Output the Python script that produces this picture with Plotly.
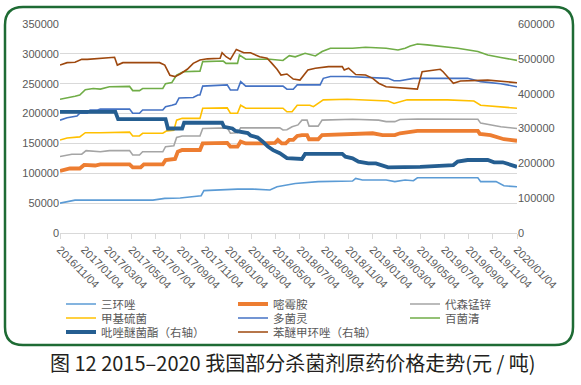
import plotly.graph_objects as go

# ---------------- data ----------------
tick_dates = ["2016-11-04", "2017-01-04", "2017-03-04", "2017-05-04", "2017-07-04",
              "2017-09-04", "2017-11-04", "2018-01-04", "2018-03-04", "2018-05-04",
              "2018-07-04", "2018-09-04", "2018-11-04", "2019-01-04", "2019-03-04",
              "2019-05-04", "2019-07-04", "2019-09-04", "2019-11-04", "2020-01-04"]

sanhuanzuo_dates = ["2016-11-04", "2016-12-12", "2017-06-27", "2017-07-27", "2017-09-04", "2017-10-17",
                    "2017-10-27", "2017-11-03", "2017-12-02", "2018-01-27", "2018-03-07", "2018-04-12",
                    "2018-04-19", "2018-05-07", "2018-06-04", "2018-06-22", "2018-08-19", "2018-11-14",
                    "2018-11-22", "2018-12-09", "2019-02-07", "2019-03-01", "2019-03-27", "2019-04-17",
                    "2019-04-27", "2019-09-27", "2019-10-04", "2019-11-12", "2019-12-02", "2020-01-04"]
sanhuanzuo_vals = [50000, 55000, 55000, 58000, 58500, 62000, 62500, 71000, 72000, 73500, 73500, 72000,
                   72000, 77500, 81500, 83000, 86000, 87000, 91500, 88700, 88700, 86000, 88700, 87500,
                   92500, 92500, 86000, 86000, 79000, 77500]

meimeian_dates = ["2016-11-04", "2016-11-29", "2016-12-24", "2017-01-04", "2017-02-01", "2017-02-14",
                  "2017-04-29", "2017-05-07", "2017-05-27", "2017-06-04", "2017-07-22", "2017-07-29",
                  "2017-08-22", "2017-08-29", "2017-09-09", "2017-10-24", "2017-10-31", "2018-01-01",
                  "2018-01-09", "2018-01-27", "2018-02-04", "2018-02-17", "2018-04-01", "2018-05-02",
                  "2018-05-09", "2018-05-19", "2018-05-29", "2018-06-07", "2018-06-17", "2018-06-27",
                  "2018-07-09", "2018-07-22", "2018-07-27", "2018-08-19", "2018-08-29", "2018-11-14",
                  "2019-01-04", "2019-01-29", "2019-03-01", "2019-03-14", "2019-04-27", "2019-09-27",
                  "2019-10-02", "2019-10-29", "2019-11-19", "2019-12-02", "2020-01-04"]
meimeian_vals = [104000, 108000, 108000, 114000, 113000, 115000, 115000, 110000, 110000, 115000,
                 115000, 122000, 124000, 136000, 139000, 139000, 150000, 151000, 144500, 144500,
                 153000, 150000, 150000, 151000, 155800, 150000, 150000, 155800, 156000, 162500,
                 164000, 164000, 157000, 157000, 164000, 166000, 167000, 164000, 164000, 167000,
                 171000, 171000, 166000, 164000, 160000, 157000, 154500]

daisen_dates = ["2016-11-04", "2016-12-04", "2016-12-29", "2017-01-09", "2017-02-14", "2017-03-09",
                "2017-04-29", "2017-05-07", "2017-05-24", "2017-06-01", "2017-07-22", "2017-07-29",
                "2017-08-19", "2017-08-26", "2017-09-09", "2017-10-24", "2017-10-31", "2018-01-01",
                "2018-01-09", "2018-01-27", "2018-02-04", "2018-05-14", "2018-05-22", "2018-06-01",
                "2018-06-14", "2018-06-29", "2018-07-09", "2018-07-22", "2018-07-27", "2018-08-19",
                "2018-08-29", "2018-11-14", "2019-01-19", "2019-02-07", "2019-03-01", "2019-03-14",
                "2019-04-27", "2019-09-27", "2019-10-04", "2019-11-24", "2020-01-04"]
daisen_vals = [128000, 132000, 132000, 138000, 136000, 138000, 138000, 130500, 130500, 136000,
               136000, 144500, 146000, 160000, 162500, 162500, 175000, 176000, 167000, 168000,
               176000, 176000, 172500, 173000, 178000, 181000, 189000, 189000, 179000, 179000,
               189000, 190500, 189000, 186500, 186500, 190000, 191000, 190500, 184000, 178000, 175000]

jiaji_dates = ["2016-11-04", "2016-11-22", "2016-12-24", "2017-01-07", "2017-02-14", "2017-04-29",
               "2017-05-07", "2017-05-24", "2017-06-01", "2017-07-22", "2017-08-01", "2017-08-19",
               "2017-08-26", "2017-09-09", "2017-10-24", "2017-10-31", "2018-01-01", "2018-01-09",
               "2018-01-27", "2018-02-04", "2018-02-17", "2018-05-22", "2018-06-01", "2018-06-14",
               "2018-06-27", "2018-07-29", "2018-08-07", "2018-09-01", "2018-11-01", "2019-02-12",
               "2019-02-27", "2019-04-01", "2019-07-12", "2019-09-17", "2019-10-04", "2019-11-24",
               "2020-01-04"]
jiaji_vals = [155800, 159000, 161000, 168000, 168000, 169000, 162500, 162500, 167000, 167000,
              171000, 172000, 189000, 192000, 192000, 209000, 209500, 200500, 200500, 214000,
              209000, 209000, 203000, 203000, 214000, 214000, 211500, 223000, 224000, 221000,
              217000, 223000, 223000, 221000, 214000, 211000, 209000]

duojun_dates = ["2016-11-04", "2016-11-22", "2016-12-17", "2016-12-24", "2017-01-12", "2017-01-19",
                "2017-02-07", "2017-02-14", "2017-04-29", "2017-05-07", "2017-05-24", "2017-06-01",
                "2017-07-22", "2017-07-29", "2017-08-14", "2017-08-24", "2017-09-01", "2017-10-07",
                "2017-10-19", "2017-10-24", "2017-10-31", "2018-01-01", "2018-01-09", "2018-01-27",
                "2018-02-04", "2018-02-17", "2018-05-22", "2018-06-01", "2018-06-17", "2018-06-27",
                "2018-08-24", "2018-09-01", "2018-09-19", "2018-11-01", "2019-02-12", "2019-02-27",
                "2019-03-14", "2019-04-17", "2019-09-01", "2019-10-04", "2019-11-24", "2020-01-04"]
duojun_vals = [189000, 193000, 196000, 200500, 200500, 206000, 206000, 207500, 207500, 200500,
               200500, 206000, 206000, 211500, 214000, 216000, 226000, 227000, 231000, 231000,
               246000, 248000, 239500, 239500, 253500, 246000, 246000, 240800, 240800, 248000,
               248000, 259000, 262000, 262000, 259000, 255000, 255000, 259000, 259000, 253500,
               250000, 245000]

baijun_dates = ["2016-11-04", "2016-11-22", "2016-12-12", "2016-12-24", "2017-01-07", "2017-01-27",
                "2017-02-14", "2017-03-09", "2017-04-29", "2017-05-07", "2017-05-24", "2017-06-01",
                "2017-07-22", "2017-07-29", "2017-08-14", "2017-08-26", "2017-09-12", "2017-10-24",
                "2017-10-31", "2017-12-22", "2017-12-29", "2018-01-27", "2018-02-01", "2018-02-17",
                "2018-04-19", "2018-05-22", "2018-06-07", "2018-06-22", "2018-07-17", "2018-08-12",
                "2018-08-29", "2018-09-19", "2018-11-14", "2018-12-17", "2019-02-07", "2019-03-09",
                "2019-03-27", "2019-04-09", "2019-04-27", "2019-05-22", "2019-06-24", "2019-08-07",
                "2019-09-27", "2019-10-22", "2019-11-24", "2020-01-04"]
baijun_vals = [224000, 226000, 229000, 231000, 240000, 242000, 241000, 245000, 245500, 238500,
               238500, 242000, 242000, 250000, 252000, 264500, 270000, 271000, 287000, 288000,
               284000, 284000, 298000, 291000, 291000, 289000, 297000, 295000, 301000, 296500,
               304000, 309500, 309500, 311000, 309500, 306500, 309500, 313000, 316500, 315000,
               312500, 309500, 304000, 298000, 294000, 289000]

bizuo_dates = ["2016-11-04", "2017-03-24", "2017-03-31", "2017-07-29", "2017-08-04", "2017-09-09",
               "2017-09-14", "2017-12-19", "2017-12-24", "2018-01-14", "2018-01-22", "2018-02-22",
               "2018-03-01", "2018-03-19", "2018-04-01", "2018-04-14", "2018-04-27", "2018-05-14",
               "2018-06-01", "2018-06-29", "2018-07-09", "2018-07-17", "2018-10-19", "2018-10-27",
               "2018-11-14", "2018-11-29", "2018-12-24", "2019-01-12", "2019-01-29", "2019-02-12",
               "2019-05-04", "2019-07-27", "2019-08-07", "2019-09-01", "2019-10-22", "2019-11-07",
               "2019-11-29", "2019-12-19", "2020-01-04"]
bizuo_vals = [348000, 348000, 327000, 327000, 300000, 300000, 316500, 316500, 305000, 300000,
              293000, 287000, 280000, 274000, 262000, 248000, 238000, 229000, 215000, 214500,
              212500, 227000, 227000, 219000, 214500, 205000, 200000, 200000, 192500, 188500,
              190000, 195000, 205000, 209500, 209500, 203000, 203000, 197000, 190000]

benmi_dates = ["2016-11-04", "2016-11-22", "2016-12-12", "2016-12-29", "2017-01-12", "2017-02-14",
               "2017-03-09", "2017-03-22", "2017-03-29", "2017-04-12", "2017-07-14", "2017-07-27",
               "2017-08-09", "2017-08-22", "2017-09-04", "2017-09-22", "2017-10-07", "2017-10-24",
               "2017-11-12", "2017-12-14", "2017-12-19", "2017-12-29", "2018-01-09", "2018-01-24",
               "2018-02-12", "2018-03-01", "2018-03-24", "2018-04-12", "2018-04-24", "2018-05-07",
               "2018-05-17", "2018-06-01", "2018-06-17", "2018-07-04", "2018-07-24", "2018-08-12",
               "2018-09-14", "2018-10-19", "2018-10-24", "2018-11-04", "2018-11-22", "2018-12-17",
               "2019-01-04", "2019-01-19", "2019-02-07", "2019-03-01", "2019-03-27", "2019-04-27",
               "2019-05-09", "2019-06-24", "2019-07-01", "2019-07-27", "2019-08-14", "2019-09-09",
               "2019-10-22", "2020-01-04"]
benmi_vals = [482000, 489000, 490000, 498500, 498500, 501500, 504500, 504500, 482000, 489000,
              489000, 482000, 453000, 449000, 456500, 470000, 487000, 496700, 500000, 501500,
              517500, 506000, 498500, 527000, 517500, 517500, 506000, 501500, 487000, 470000,
              453500, 456500, 442000, 439000, 468000, 473000, 477500, 477500, 468000, 473000,
              455000, 453500, 444000, 430000, 420000, 418000, 415500, 413000, 463000, 470000,
              463000, 430000, 436500, 437000, 439000, 431500]

series = [
    ("三环唑", sanhuanzuo_dates, sanhuanzuo_vals, "#5B9BD5", 1.6, "y"),
    ("嘧霉胺", meimeian_dates, meimeian_vals, "#ED7D31", 3.8, "y"),
    ("代森锰锌", daisen_dates, daisen_vals, "#A5A5A5", 1.6, "y"),
    ("甲基硫菌", jiaji_dates, jiaji_vals, "#FFC000", 1.6, "y"),
    ("多菌灵", duojun_dates, duojun_vals, "#4472C4", 1.6, "y"),
    ("百菌清", baijun_dates, baijun_vals, "#70AD47", 1.6, "y"),
    ("吡唑醚菌酯（右轴）", bizuo_dates, bizuo_vals, "#255E91", 3.8, "y2"),
    ("苯醚甲环唑（右轴）", benmi_dates, benmi_vals, "#9E480E", 1.6, "y2"),
]

# ---------------- layout geometry ----------------
W, H = 581, 385
ML, MR, MT, MB = 60, 64, 24, 152
PW, PH = W - ML - MR, H - MT - MB


def px(x):
    return (x - ML) / PW


def py(y):
    return (H - MB - y) / PH


FONT = "Liberation Sans, Noto Sans CJK SC, sans-serif"
CJK = "Noto Sans CJK SC, sans-serif"
TXT = "#595959"

fig = go.Figure()
legend_cols = [61, 233, 405]
legend_rows = [304, 318, 332]
layout_legends = {}
for i, (name, d, v, c, w, ax) in enumerate(series):
    key = "legend" if i == 0 else f"legend{i + 1}"
    fig.add_trace(go.Scatter(x=d, y=v, name=name, mode="lines", yaxis=ax,
                             line=dict(color=c, width=w), legend=key))
    layout_legends[key] = dict(
        orientation="h", x=px(legend_cols[i % 3]), xanchor="left",
        y=py(legend_rows[i // 3]), yanchor="middle",
        bgcolor="rgba(0,0,0,0)", borderwidth=0,
        font=dict(family=CJK, size=11.5, color=TXT))

# rounded green frame
x0, x1, y0, y1, r = 5, 573, 7, 345, 18
pts = [
    ("M", px(x0 + r), py(y0)), ("L", px(x1 - r), py(y0)),
    ("Q", px(x1), py(y0), px(x1), py(y0 + r)), ("L", px(x1), py(y1 - r)),
    ("Q", px(x1), py(y1), px(x1 - r), py(y1)), ("L", px(x0 + r), py(y1)),
    ("Q", px(x0), py(y1), px(x0), py(y1 - r)), ("L", px(x0), py(y0 + r)),
    ("Q", px(x0), py(y0), px(x0 + r), py(y0)),
]
path = " ".join(p[0] + " " + " ".join(f"{c:.5f}" for c in p[1:]) for p in pts) + " Z"

fig.update_layout(
    width=W, height=H,
    margin=dict(l=ML, r=MR, t=MT, b=MB, autoexpand=False),
    paper_bgcolor="white", plot_bgcolor="white",
    font=dict(family=FONT, color=TXT, size=11),
    showlegend=True,
    xaxis=dict(type="date", range=[tick_dates[0], tick_dates[-1]],
               tickvals=tick_dates, tickformat="%Y/%m/%d", tickangle=45,
               showgrid=False, showline=True, linecolor="#D9D9D9", linewidth=1,
               ticks="outside", tickcolor="#D9D9D9", ticklen=5,
               tickfont=dict(family=FONT, size=11, color=TXT), zeroline=False),
    yaxis=dict(range=[0, 350000], dtick=50000, showgrid=True, gridcolor="#D9D9D9",
               gridwidth=1, zeroline=False, showline=False, ticks="",
               tickfont=dict(family=FONT, size=11, color=TXT), tickformat="d"),
    yaxis2=dict(range=[0, 600000], dtick=100000, overlaying="y", side="right",
                showgrid=False, zeroline=False, showline=False, ticks="",
                tickfont=dict(family=FONT, size=11, color=TXT), tickformat="d"),
    shapes=[dict(type="path", path=path, xref="paper", yref="paper",
                 line=dict(color="#1E6B34", width=2.5), fillcolor="rgba(0,0,0,0)", layer="below")],
    annotations=[dict(text="图 12 2015–2020 我国部分杀菌剂原药价格走势(元 / 吨)",
                      x=px(292), y=py(362), xref="paper", yref="paper",
                      xanchor="center", yanchor="middle", showarrow=False,
                      font=dict(family=CJK, size=20, color="#231F20"))],
    **layout_legends,
)

fig.write_html("out.html", config={"displayModeBar": False},
               post_script="document.body.style.margin='0';document.body.style.overflow='hidden';")
